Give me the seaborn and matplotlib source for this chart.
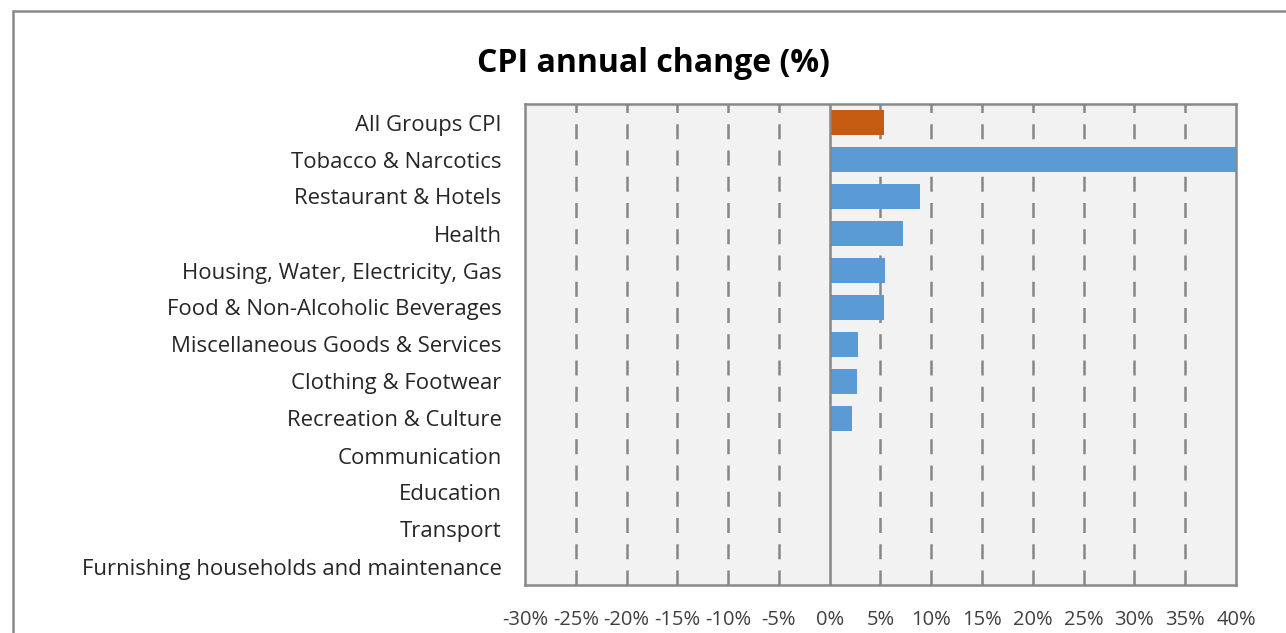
import numpy as np
import pandas as pd
import seaborn as sns
import matplotlib.pyplot as plt
from matplotlib.patches import Rectangle
from matplotlib.ticker import MultipleLocator, FuncFormatter

# DATA
categories = [
    "All Groups CPI",
    "Tobacco & Narcotics",
    "Restaurant & Hotels",
    "Health",
    "Housing, Water, Electricity, Gas",
    "Food & Non-Alcoholic Beverages",
    "Miscellaneous Goods & Services",
    "Clothing & Footwear",
    "Recreation & Culture",
    "Communication",
    "Education",
    "Transport",
    "Furnishing households and maintenance",
]
annual_change = [5.35, 40.0, 8.9, 7.2, 5.45, 5.3, 2.8, 2.65, 2.2, 0.0, 0.0, 0.0, 0.0]
group = ["All"] + ["Component"] * 12

df = pd.DataFrame({"category": categories, "change": annual_change, "group": group})

sns.set_theme(style="white")
plt.rcParams["font.family"] = ["Open Sans", "DejaVu Sans"]

fig = plt.figure(figsize=(12.86, 6.33), dpi=100)
ax = fig.add_axes([525 / 1286, 1 - 585 / 633, 711 / 1286, 481 / 633])
ax.set_facecolor("#F2F2F2")

sns.barplot(data=df, y="category", x="change", hue="group", dodge=False,
            palette={"All": "#C55A11", "Component": "#5B9BD5"},
            width=0.65, legend=False, ax=ax, zorder=3, saturation=1,
            linewidth=0)

ax.set_xlim(-30, 40)
ax.xaxis.set_major_locator(MultipleLocator(5))
ax.xaxis.set_major_formatter(FuncFormatter(lambda v, p: f"{v:.0f}%"))

# dashed gridlines, solid zero line
for v in range(-25, 40, 5):
    if v == 0:
        continue
    ax.axvline(v, color="#878787", lw=1.8, ls=(0, (6, 4.5)), zorder=1)
ax.axvline(0, color="#878787", lw=1.8, zorder=4)

for s in ax.spines.values():
    s.set_color("#898989")
    s.set_linewidth(1.8)

ax.set_xlabel("")
ax.set_ylabel("")
ax.tick_params(axis="both", length=0)
ax.tick_params(axis="y", pad=17, labelsize=15.9, labelcolor="#262626")
ax.tick_params(axis="x", pad=18, labelsize=14.5, labelcolor="#404040")

fig.text(0.508, 0.90, "CPI annual change (%)", ha="center", va="center",
         fontsize=23, fontweight="bold", color="#000000")

# outer chart frame
fig.patches.append(Rectangle((13 / 1286, -0.1), 1.2, 1 - 11 / 633 + 0.1,
                             transform=fig.transFigure, fill=False,
                             edgecolor="#898989", lw=1.8))

fig.savefig("out.png", dpi=100)
